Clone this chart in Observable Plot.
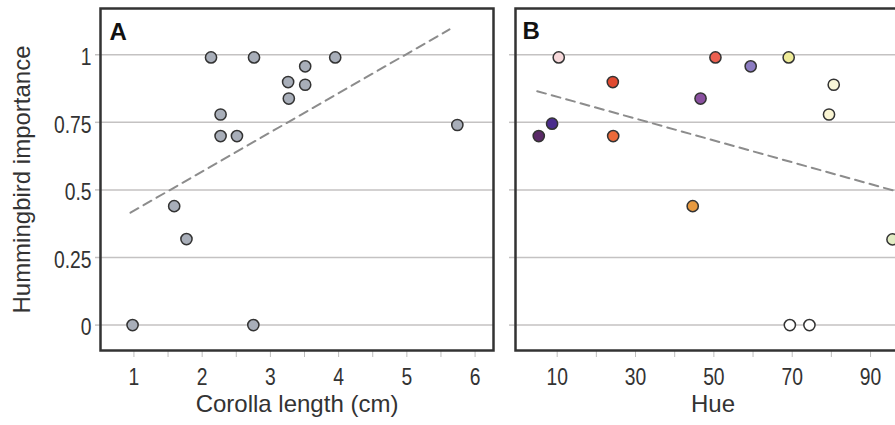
<!DOCTYPE html>
<html>
<head>
<meta charset="utf-8">
<script src="https://cdn.jsdelivr.net/npm/d3@7"></script>
<script src="https://cdn.jsdelivr.net/npm/@observablehq/plot@0.6"></script>
<style>
  html, body { margin: 0; padding: 0; background: white; overflow: hidden; }
  #wrap { display: flex; width: 895px; height: 425px; overflow: hidden; }
  #wrap > * { flex-shrink: 0; }
</style>
</head>
<body>
<div id="wrap"></div>
<script>
// ---- Panel A data: corolla length (cm) vs hummingbird importance
const corollaLength = [2.13, 2.76, 3.95, 3.51, 3.26, 3.51, 3.27, 2.27, 2.27, 2.51, 5.74, 1.59, 1.77, 0.98, 2.75];
const importanceA   = [0.99, 0.99, 0.99, 0.957, 0.899, 0.889, 0.838, 0.779, 0.699, 0.699, 0.74, 0.44, 0.318, 0, 0];

// ---- Panel B data: hue vs hummingbird importance
const hue         = [5.3, 8.7, 10.4, 24.2, 24.3, 44.6, 46.6, 50.4, 59.4, 69.1, 80.6, 79.4, 69.4, 74.4, 95.6];
const importanceB = [0.699, 0.745, 0.99, 0.899, 0.699, 0.44, 0.838, 0.99, 0.957, 0.99, 0.889, 0.779, 0, 0, 0.317];
const hueColors   = ["#5a2a68", "#4a2c8c", "#f6d8da", "#e04a30", "#ec6a3a", "#e89a40", "#8a50a0", "#ec6050",
                     "#8c7cc2", "#eeeb98", "#f8f6d8", "#fbf6d4", "#ffffff", "#ffffff", "#e2ecc4"];

// ---- Fitted trend lines (slope, intercept, x extent)
const trendA = { slope: 0.145, intercept: 0.278, xFrom: 0.95, xTo: 5.625 };
const trendB = { slope: -0.00404, intercept: 0.885, xFrom: 4.9, xTo: 100 };

// ---- Ticks
const yTicks      = [0, 0.25, 0.5, 0.75, 1];
const yTickLabels = ["0", "0.25", "0.5", "0.75", "1"];
const xTicksA      = [1, 1.5, 2, 2.5, 3, 3.5, 4, 4.5, 5, 5.5, 6];
const xTickLabelsA = ["1", "", "2", "", "3", "", "4", "", "5", "", "6"];
const xTicksB      = [10, 20, 30, 40, 50, 60, 70, 80, 90, 100];
const xTickLabelsB = ["10", "", "30", "", "50", "", "70", "", "90", ""];

const titleA = "Corolla length (cm)";
const titleB = "Hue";
const yTitle = "Hummingbird importance";

// ---- build tables
const dataA = corollaLength.map((x, i) => ({ x, y: importanceA[i] }));
const dataB = hue.map((x, i) => ({ x, y: importanceB[i], c: hueColors[i] }));
const lineA = [trendA.xFrom, trendA.xTo].map(x => ({ x, y: trendA.intercept + trendA.slope * x }));
const lineB = [trendB.xFrom, trendB.xTo].map(x => ({ x, y: trendB.intercept + trendB.slope * x }));

const font = "'Liberation Sans', Arial, sans-serif";
const textColor = "#333";
const gridColor = "#c4c2c2";
const tickColor = "#bdbdbd";
const frameColor = "#333";

const yLab = d => yTickLabels[yTicks.indexOf(d)];

const plotA = Plot.plot({
  width: 505, height: 425,
  marginLeft: 100, marginRight: 12, marginTop: 8, marginBottom: 75,
  x: { domain: [0.51, 6.27] },
  y: { domain: [-0.094, 1.171] },
  style: { fontFamily: font, fontSize: "20px", color: textColor, background: "white", overflow: "visible" },
  marks: [
    Plot.gridY(yTicks, { stroke: gridColor, strokeOpacity: 1, strokeWidth: 1.5 }),
    Plot.axisY(yTicks, { tickSize: 5, tickPadding: 4, stroke: gridColor, strokeWidth: 1.5, fill: textColor,
                         tickFormat: yLab, label: null, fontSize: 23 }),
    Plot.axisX(xTicksA, { tickSize: 7, tickPadding: 11, stroke: tickColor, fill: textColor,
                          tickFormat: d => xTickLabelsA[xTicksA.indexOf(d)], label: null, fontSize: 23 }),
    Plot.line(lineA, { x: "x", y: "y", stroke: "#8c8c8c", strokeWidth: 2, strokeDasharray: "9,6" }),
    Plot.dot(dataA, { x: "x", y: "y", r: 5.6, fill: "#a8aeb9", stroke: "#333", strokeWidth: 1.5 }),
    Plot.frame({ stroke: frameColor, strokeWidth: 2.5 }),
    Plot.text([titleA], { frameAnchor: "bottom", dy: 61, fontSize: 24, fill: textColor }),
    Plot.text([yTitle], { frameAnchor: "left", textAnchor: "middle", dx: -78, rotate: -90, fontSize: 24, fill: textColor }),
    Plot.text(["A"], { frameAnchor: "top-left", dx: 9, dy: 14, fontSize: 24, fontWeight: "bold", fill: "#111" })
  ]
});

const plotB = Plot.plot({
  width: 405, height: 425,
  marginLeft: 10, marginRight: 0, marginTop: 8, marginBottom: 75,
  x: { domain: [-0.64, 100.2] },
  y: { domain: [-0.094, 1.171] },
  style: { fontFamily: font, fontSize: "20px", color: textColor, background: "white", overflow: "visible" },
  marks: [
    Plot.gridY(yTicks, { stroke: gridColor, strokeOpacity: 1, strokeWidth: 1.5 }),
    Plot.axisY(yTicks, { tickSize: 6, stroke: gridColor, strokeWidth: 1.5, tickFormat: () => "", label: null }),
    Plot.axisX(xTicksB, { tickSize: 7, tickPadding: 11, stroke: tickColor, fill: textColor,
                          tickFormat: d => xTickLabelsB[xTicksB.indexOf(d)], label: null, fontSize: 23 }),
    Plot.line(lineB, { x: "x", y: "y", stroke: "#8c8c8c", strokeWidth: 2, strokeDasharray: "9,6" }),
    Plot.dot(dataB, { x: "x", y: "y", r: 5.6, fill: "c", stroke: "#333", strokeWidth: 1.5 }),
    Plot.frame({ stroke: frameColor, strokeWidth: 2.5 }),
    Plot.text([titleB], { frameAnchor: "bottom", dy: 61, fontSize: 24, fill: textColor }),
    Plot.text(["B"], { frameAnchor: "top-left", dx: 7, dy: 13, fontSize: 24, fontWeight: "bold", fill: "#111" })
  ]
});

// condense tick labels horizontally (the reference uses a narrow face);
// y labels sit a touch below their grid lines in the reference
for (const svg of [plotA, plotB]) {
  svg.querySelectorAll('g[aria-label="x-axis tick label"] text')
    .forEach(t => t.setAttribute("transform", (t.getAttribute("transform") || "") + " scale(0.84,1)"));
  svg.querySelectorAll('g[aria-label="y-axis tick label"] text')
    .forEach(t => t.setAttribute("transform", "translate(0,3) " + (t.getAttribute("transform") || "") + " scale(0.84,1)"));
}

const wrap = document.getElementById("wrap");
wrap.appendChild(plotA);
wrap.appendChild(plotB);
</script>
</body>
</html>
